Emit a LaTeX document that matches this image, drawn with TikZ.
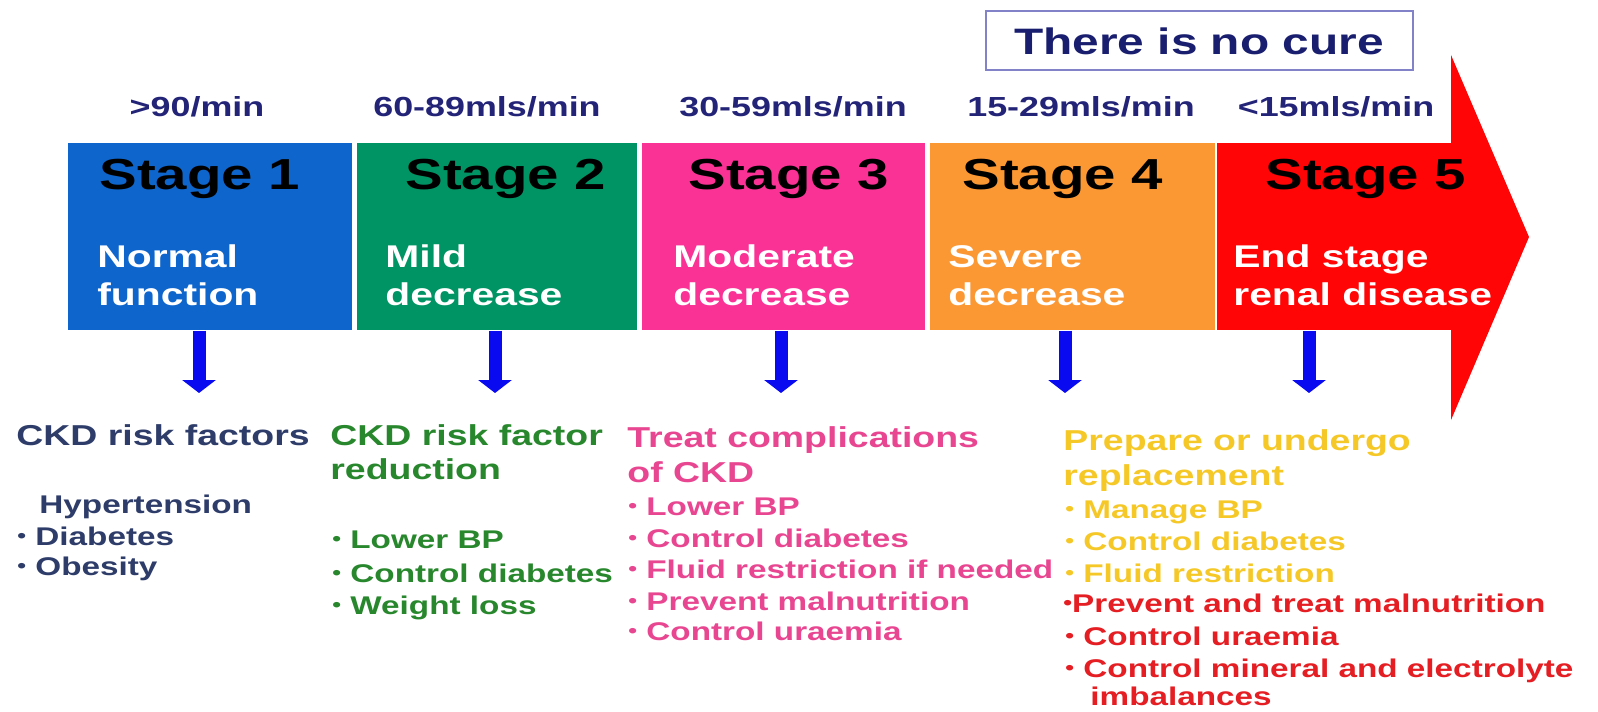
\documentclass[tikz,border=0pt]{standalone}
\usepackage{fontspec}
\newfontfamily\wfont{Liberation Sans Bold}[FakeStretch=1.3]
\usetikzlibrary{arrows.meta}
\definecolor{stblue}{RGB}{14,102,204}
\definecolor{stgreen}{RGB}{0,148,100}
\definecolor{stpink}{RGB}{250,50,150}
\definecolor{storange}{RGB}{252,152,52}
\definecolor{stred}{RGB}{255,5,5}
\definecolor{arrowblue}{RGB}{10,10,240}
\definecolor{ratenavy}{RGB}{35,35,120}
\definecolor{curenavy}{RGB}{25,30,110}
\definecolor{cureframe}{RGB}{130,130,200}
\definecolor{riskcol}{RGB}{45,60,105}
\definecolor{reducecol}{RGB}{40,135,45}
\definecolor{treatcol}{RGB}{232,70,145}
\definecolor{preparecol}{RGB}{245,200,40}
\definecolor{redlistcol}{RGB}{228,30,35}
\newcommand{\itemdot}{\raisebox{0.1em}{\scalebox{0.75}{\textbullet}}}

\begin{document}
\begin{tikzpicture}[x=0.5pt, y=-0.5pt,
        stagebox/.style={rectangle, inner sep=0pt, minimum height=93.5pt, anchor=north west},
        rate/.style={font=\wfont\fontsize{13.8}{16}\selectfont, text=ratenavy, anchor=base, inner sep=0pt},
        stagelbl/.style={font=\wfont\fontsize{21.7}{26}\selectfont, anchor=base west, inner sep=0pt},
        desc/.style={font=\wfont\fontsize{15.7}{19}\selectfont, text=white, anchor=base west, inner sep=0pt},
        head/.style={font=\wfont\fontsize{14.4}{17}\selectfont, anchor=base west, inner sep=0pt},
        item/.style={font=\wfont\fontsize{12.8}{15}\selectfont, anchor=base west, inner sep=0pt},
        down/.style={-{Triangle[width=16.5pt,length=6.5pt]}, line width=6.5pt, draw=arrowblue}]
    \useasboundingbox (0,0) rectangle (1598,711);

    % stage boxes
    \node[stagebox, fill=stblue, minimum width=142pt] (s1) at (68,143) {};
    \node[stagebox, fill=stgreen, minimum width=140pt] (s2) at (357,143) {};
    \node[stagebox, fill=stpink, minimum width=141.5pt] (s3) at (642,143) {};
    \node[stagebox, fill=storange, minimum width=142.5pt] (s4) at (930,143) {};
    \node[stagebox, fill=stred, minimum width=117.5pt] (s5) at (1217,143) {};
    \fill[stred] (1451,330) -- (1451,55) -- (1529,237) -- (1451,420) -- cycle;

    \node[draw=cureframe, line width=1pt, minimum width=213.5pt, minimum height=29.5pt,
        font=\wfont\fontsize{18.4}{22}\selectfont, text=curenavy] (cure) at (1199,41) {There is no cure};

    % rates
    \node[rate] (r1) at (197,117) {>90/min};
    \node[rate] (r2) at (487,117) {60-89mls/min};
    \node[rate] (r3) at (793,117) {30-59mls/min};
    \node[rate] (r4) at (1081,117) {15-29mls/min};
    \node[rate] (r5) at (1336,117) {<15mls/min};

    % stage labels
    \node[stagelbl] (l1) at (99,190) {Stage 1};
    \node[stagelbl] (l2) at (405,190) {Stage 2};
    \node[stagelbl] (l3) at (688,190) {Stage 3};
    \node[stagelbl] (l4) at (962,190) {Stage 4};
    \node[stagelbl] (l5) at (1265,190) {Stage 5};

    \node[desc] (d1a) at (97,267) {Normal};
    \node[desc] (d1b) at (97,305) {function};
    \node[desc] (d2a) at (385,267) {Mild};
    \node[desc] (d2b) at (385,305) {decrease};
    \node[desc] (d3a) at (673,267) {Moderate};
    \node[desc] (d3b) at (673,305) {decrease};
    \node[desc] (d4a) at (948,267) {Severe};
    \node[desc] (d4b) at (948,305) {decrease};
    \node[desc] (d5a) at (1233,267) {End stage};
    \node[desc] (d5b) at (1233,305) {renal disease};

    % arrows down
    \foreach \s/\xx in {s1/199, s2/495, s3/781, s4/1065, s5/1309} {
        \coordinate (t\s) at (\xx,393);
        \draw[down] (\s.south -| t\s) -- (t\s);
    }

    % column 1
    \node[head, text=riskcol] (h1) at (16,445) {CKD risk factors};
    \node[item, text=riskcol] (h1x) at (39,513) {Hypertension};
    \foreach \yy/\txt [count=\i] in {545/Diabetes, 575/Obesity}
        \node[item, text=riskcol] (a\i) at (17,\yy) {\itemdot\ \txt};

    % column 2
    \node[head, text=reducecol] (h2a) at (330,445) {CKD risk factor};
    \node[head, text=reducecol] (h2b) at (330,479) {reduction};
    \foreach \yy/\txt [count=\i] in {548/Lower BP, 582/Control diabetes, 614/Weight loss}
        \node[item, text=reducecol] (b\i) at (332,\yy) {\itemdot\ \txt};

    % column 3
    \node[head, text=treatcol] (h3a) at (627,447) {Treat complications};
    \node[head, text=treatcol] (h3b) at (627,482) {of CKD};
    \foreach \yy/\txt [count=\i] in {515/Lower BP, 547/Control diabetes, 578/Fluid restriction if needed,
            610/Prevent malnutrition, 640/Control uraemia}
        \node[item, text=treatcol] (c\i) at (628,\yy) {\itemdot\ \txt};

    % column 4
    \node[head, text=preparecol] (h4a) at (1063,450) {Prepare or undergo};
    \node[head, text=preparecol] (h4b) at (1063,485) {replacement};
    \foreach \yy/\txt [count=\i] in {518/Manage BP, 550/Control diabetes, 582/Fluid restriction}
        \node[item, text=preparecol] (e\i) at (1065,\yy) {\itemdot\ \txt};
    \node[item, text=redlistcol] (f1) at (1063,612) {\itemdot Prevent and treat malnutrition};
    \node[item, text=redlistcol] (f2) at (1065,645) {\itemdot\ Control uraemia};
    \node[item, text=redlistcol] (f3) at (1065,677) {\itemdot\ Control mineral and electrolyte};
    \node[item, text=redlistcol] (f4) at (1090,705) {imbalances};
\end{tikzpicture}
\end{document}
